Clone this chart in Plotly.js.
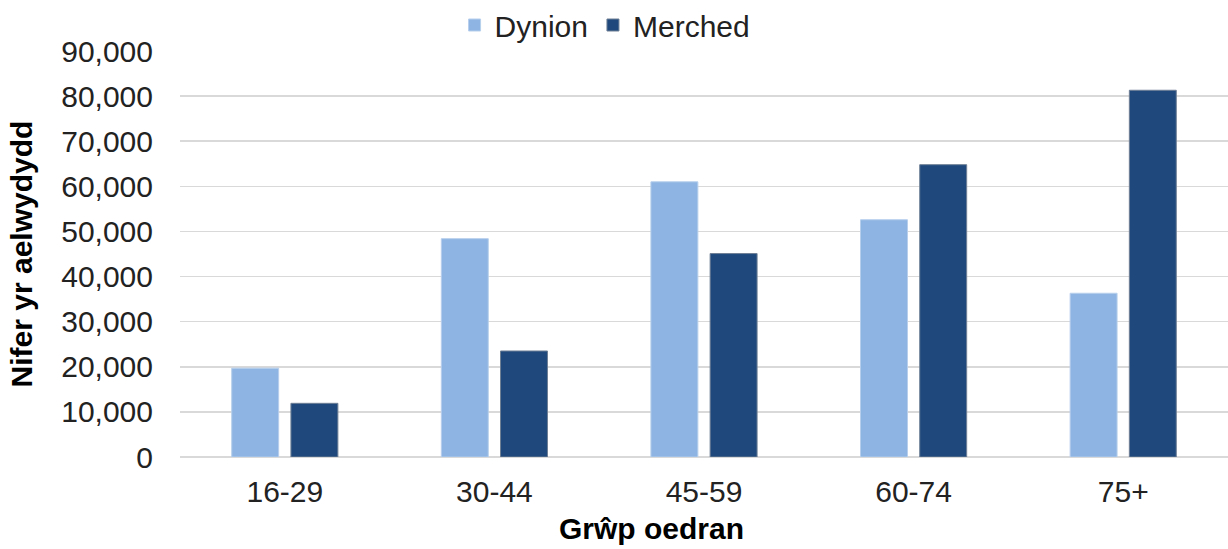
<!DOCTYPE html>
<html>
<head>
<meta charset="utf-8">
<script src="https://cdn.plot.ly/plotly-3.0.1.min.js"></script>
<style>html,body{margin:0;padding:0;background:#fff}#chart{width:1228px;height:549px}</style>
</head>
<body>
<div id="chart"></div>
<script>
var categories = ["16-29", "30-44", "45-59", "60-74", "75+"];
var dynion = [19700, 48400, 61000, 52600, 36300];
var merched = [11900, 23500, 45100, 64800, 81300];
var seriesNames = ["Dynion", "Merched"];
var yTickVals = [0, 10000, 20000, 30000, 40000, 50000, 60000, 70000, 80000, 90000];

var fontFam = "Liberation Sans, Arial, sans-serif";
var data = [
  {type: "bar", name: seriesNames[0], x: categories, y: dynion,
   marker: {color: "#8DB4E2", line: {color: "#B7CFEC", width: 1}}},
  {type: "bar", name: seriesNames[1], x: categories, y: merched,
   marker: {color: "#1F497D", line: {color: "#6F7F95", width: 1}}}
];
var layout = {
  width: 1228, height: 549,
  margin: {l: 180, r: 0, t: 49, b: 92},
  paper_bgcolor: "#fff", plot_bgcolor: "#fff",
  barmode: "group", bargap: 0.435, bargroupgap: 0.207,
  font: {family: fontFam, size: 30, color: "#222"},
  showlegend: true,
  legend: {orientation: "h", x: 0.262, xanchor: "left",
           yref: "container", y: 1 - 25 / 549, yanchor: "middle",
           font: {size: 30, color: "#222"}, itemwidth: 30, tracegroupgap: 0,
           bgcolor: "rgba(0,0,0,0)"},
  xaxis: {type: "category", showgrid: false, zeroline: false, showline: false,
          ticks: "", ticklabelstandoff: 14, tickfont: {size: 30, color: "#222"}},
  yaxis: {range: [0, 90000], tickvals: yTickVals, tickformat: ",d",
          showgrid: true, gridcolor: "#D9D9D9", gridwidth: 1.5,
          zeroline: true, zerolinecolor: "#D9D9D9", zerolinewidth: 1.5,
          showline: false, ticks: "", ticklabelstandoff: 26,
          tickfont: {size: 30, color: "#222"},
          title: {text: "<b>Nifer yr aelwydydd</b>", standoff: 19,
                  font: {size: 30, color: "#000"}}},
  annotations: [
    {text: "<b>Grŵp oedran</b>", xref: "paper", yref: "paper",
     x: (651 - 180) / 1048, y: -0.176, xanchor: "center", yanchor: "middle",
     showarrow: false, font: {size: 30, color: "#000", family: fontFam}}
  ]
};
Plotly.newPlot("chart", data, layout, {displayModeBar: false, staticPlot: true});
</script>
</body>
</html>
